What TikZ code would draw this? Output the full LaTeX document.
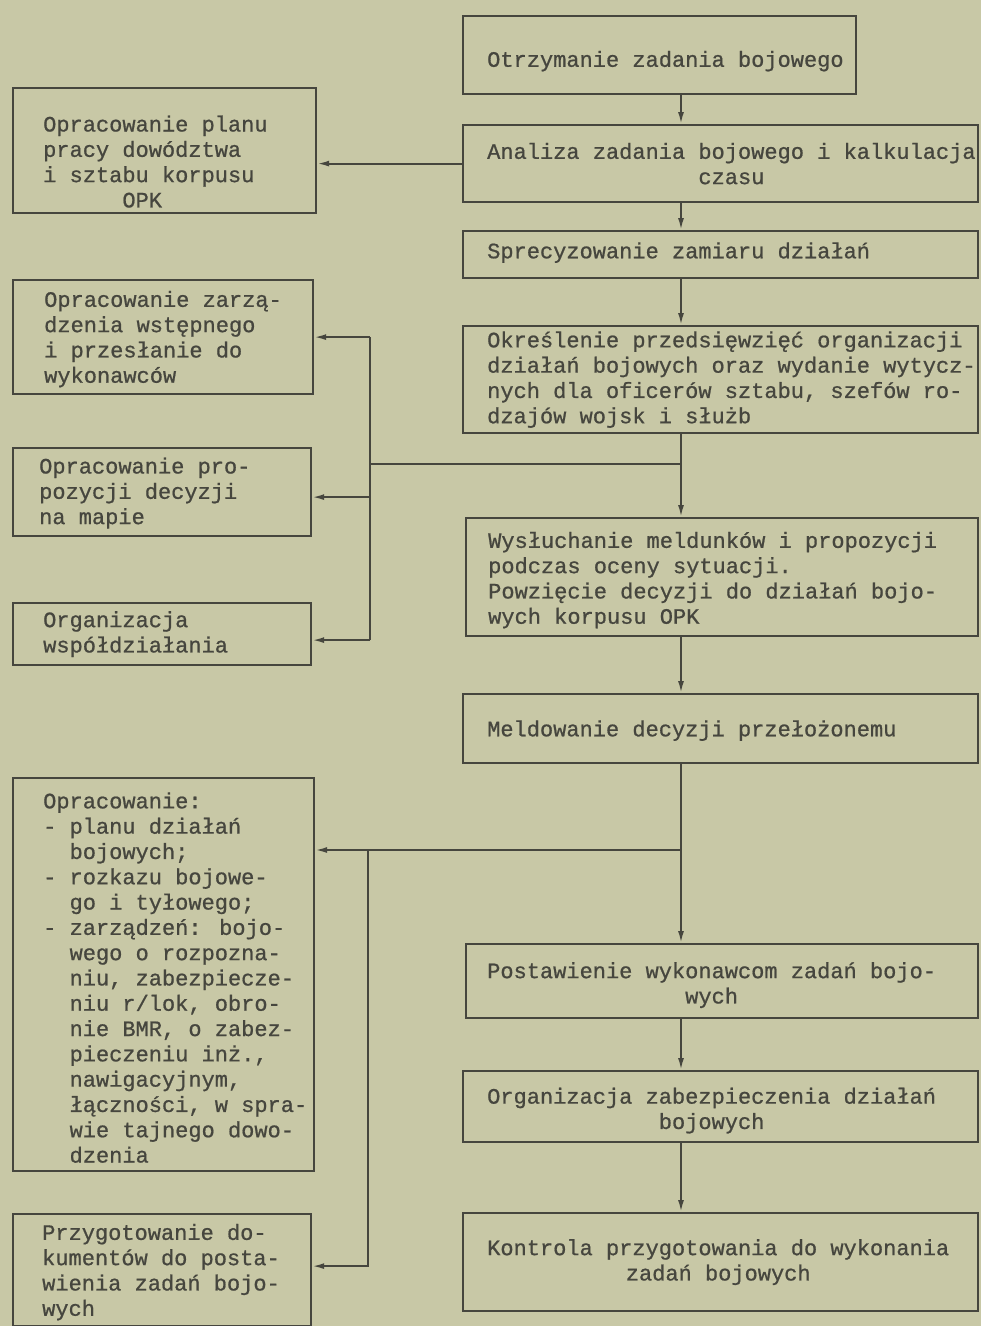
\documentclass[tikz,border=0pt]{standalone}
\usepackage{fontspec}
\newfontfamily\typewriter[FakeBold=0.8]{Liberation Mono}
\usetikzlibrary{arrows.meta,positioning,calc}
\definecolor{paper}{RGB}{200,200,166}
\definecolor{ink}{RGB}{70,70,62}
\tikzset{
  stepbox/.style={draw=ink, line width=2.2pt, anchor=north west, inner sep=0pt},
  boxtext/.style={anchor=west, inner sep=0pt, text=ink, align=left,
    font=\typewriter\fontsize{22}{25.3}\selectfont},
  flow/.style={draw=ink, line width=1.9pt, -{Latex[length=12pt,width=6pt]}},
  wire/.style={draw=ink, line width=1.9pt}
}
\begin{document}
\begin{tikzpicture}[x=1pt,y=-1pt]
      \fill[paper] (0,0) rectangle (981,1326);
      \useasboundingbox (0,0) rectangle (981,1326);
      %\draw [help lines] (0,0) grid (981,1326);

      % main column
      \node[stepbox, minimum width=393, minimum height=78] (otrz) at (462,15) {};
      \node[stepbox, minimum width=515, minimum height=77] (anal) at (462,124) {};
      \node[stepbox, minimum width=515, minimum height=47] (sprec) at (462,230) {};
      \node[stepbox, minimum width=515, minimum height=107] (okresl) at (462,325) {};
      \node[stepbox, minimum width=512, minimum height=118] (wysl) at (465,517) {};
      \node[stepbox, minimum width=515, minimum height=69] (meld) at (462,693) {};
      \node[stepbox, minimum width=512, minimum height=74] (postaw) at (465,943) {};
      \node[stepbox, minimum width=515, minimum height=71] (zabezp) at (462,1070) {};
      \node[stepbox, minimum width=515, minimum height=98] (kontr) at (462,1212) {};

      % side column
      \node[stepbox, minimum width=303, minimum height=125] (plan) at (12,87) {};
      \node[stepbox, minimum width=300, minimum height=114] (zarz) at (12,279) {};
      \node[stepbox, minimum width=298, minimum height=88] (propoz) at (12,447) {};
      \node[stepbox, minimum width=298, minimum height=62] (wspol) at (12,602) {};
      \node[stepbox, minimum width=301, minimum height=393] (oprac) at (12,777) {};
      \node[stepbox, minimum width=298, minimum height=112] (przyg) at (12,1213) {};

      % texts
      \node[boxtext] (otrz-t) at ([xshift=25,yshift=-6]otrz.west) {Otrzymanie zadania bojowego};
      \node[boxtext, align=center] (anal-t) at ([xshift=25]anal.west)
        {Analiza zadania bojowego i kalkulacja\\czasu};
      \node[boxtext] (sprec-t) at ([xshift=25,yshift=2]sprec.west) {Sprecyzowanie zamiaru działań};
      \node[boxtext] (okresl-t) at ([xshift=25]okresl.west)
        {Określenie przedsięwzięć organizacji\\działań bojowych oraz wydanie wytycz-\\nych dla oficerów sztabu, szefów ro-\\dzajów wojsk i służb};
      \node[boxtext] (wysl-t) at ([xshift=23,yshift=-3]wysl.west)
        {Wysłuchanie meldunków i propozycji\\podczas oceny sytuacji.\\Powzięcie decyzji do działań bojo-\\wych korpusu OPK};
      \node[boxtext] (meld-t) at ([xshift=25,yshift=-2]meld.west) {Meldowanie decyzji przełożonemu};
      \node[boxtext, align=center] (postaw-t) at ([xshift=22,yshift=-4]postaw.west)
        {Postawienie wykonawcom zadań bojo-\\wych};
      \node[boxtext, align=center] (zabezp-t) at ([xshift=25,yshift=-4]zabezp.west)
        {Organizacja zabezpieczenia działań\\bojowych};
      \node[boxtext, align=center] (kontr-t) at ([xshift=25]kontr.west)
        {Kontrola przygotowania do wykonania\\zadań bojowych};

      \node[boxtext] (plan-t) at ([xshift=31,yshift=-11]plan.west)
        {Opracowanie planu\\pracy dowództwa\\i sztabu korpusu\\\hphantom{xxxxxx}OPK};
      \node[boxtext] (zarz-t) at ([xshift=32,yshift=-2]zarz.west)
        {Opracowanie zarzą-\\dzenia wstępnego\\i przesłanie do\\wykonawców};
      \node[boxtext] (propoz-t) at ([xshift=27,yshift=-1]propoz.west)
        {Opracowanie pro-\\pozycji decyzji\\na mapie};
      \node[boxtext] (wspol-t) at ([xshift=31]wspol.west) {Organizacja\\współdziałania};
      \node[boxtext] (oprac-t) at ([xshift=31,yshift=-3]oprac.west)
        {Opracowanie:\\- planu działań\\\hphantom{xx}bojowych;\\- rozkazu bojowe-\\\hphantom{xx}go i tyłowego;\\- zarządzeń: bojo-\\\hphantom{xx}wego o rozpozna-\\\hphantom{xx}niu, zabezpiecze-\\\hphantom{xx}niu r/lok, obro-\\\hphantom{xx}nie BMR, o zabez-\\\hphantom{xx}pieczeniu inż.,\\\hphantom{xx}nawigacyjnym,\\\hphantom{xx}łączności, w spra-\\\hphantom{xx}wie tajnego dowo-\\\hphantom{xx}dzenia};
      \node[boxtext] (przyg-t) at ([xshift=30,yshift=-2]przyg.west)
        {Przygotowanie do-\\kumentów do posta-\\wienia zadań bojo-\\wych};

      % connectors
      \coordinate (spine) at (681,0);
      \coordinate (bus1) at (370,464);
      \coordinate (bus2) at (368,850);
      \coordinate (propoz-in) at ([yshift=-5]propoz.east);
      \coordinate (wspol-in) at ([yshift=-6]wspol.east);
      \coordinate (przyg-in) at ([yshift=4]przyg.east);

      \draw[flow] (otrz.south -| spine) -- (anal.north -| spine);
      \draw[flow] (anal.south -| spine) -- (sprec.north -| spine);
      \draw[flow] (sprec.south -| spine) -- (okresl.north -| spine);
      \draw[flow] (okresl.south -| spine) -- (wysl.north -| spine);
      \draw[flow] (wysl.south -| spine) -- (meld.north -| spine);
      \draw[flow] (meld.south -| spine) -- (postaw.north -| spine);
      \draw[flow] (postaw.south -| spine) -- (zabezp.north -| spine);
      \draw[flow] (zabezp.south -| spine) -- (kontr.north -| spine);

      \draw[flow] (anal.west) -- (plan.east |- anal.west);

      \draw[wire] (spine |- bus1) -- (bus1);
      \draw[wire] (bus1 |- zarz.east) -- (bus1 |- wspol-in);
      \draw[flow] (bus1 |- zarz.east) -- (zarz.east);
      \draw[flow] (bus1 |- propoz-in) -- (propoz-in);
      \draw[flow] (bus1 |- wspol-in) -- (wspol-in);

      \draw[flow] (spine |- bus2) -- (oprac.east |- bus2);
      \draw[flow] (bus2) |- (przyg-in);
\end{tikzpicture}
\end{document}
